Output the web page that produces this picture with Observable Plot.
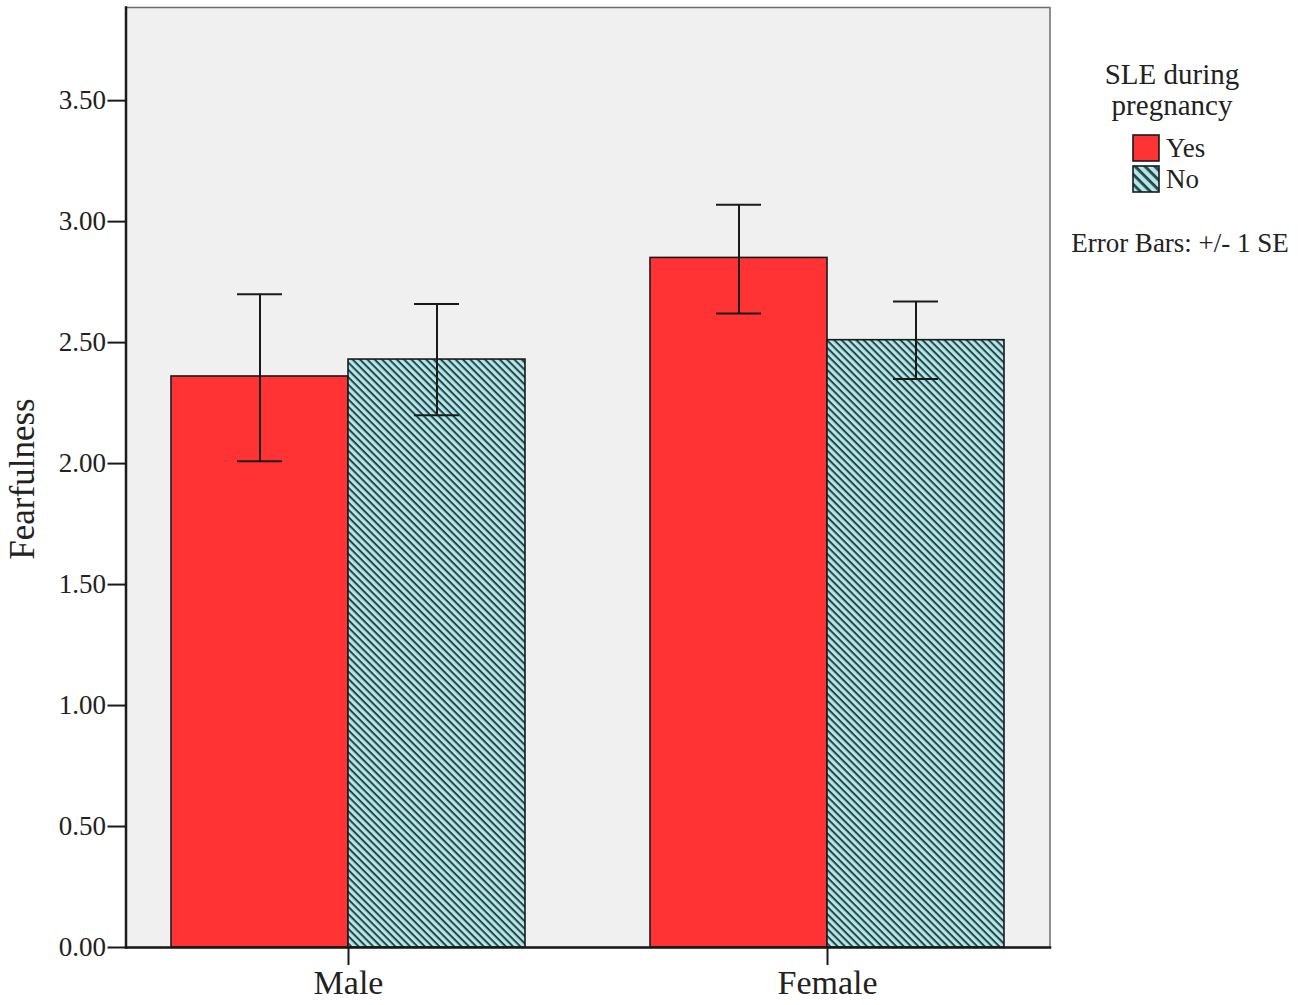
<!DOCTYPE html>
<html>
<head>
<meta charset="utf-8">
<script src="https://cdn.jsdelivr.net/npm/d3@7"></script>
<script src="https://cdn.jsdelivr.net/npm/@observablehq/plot@0.6"></script>
<style>
  html, body { margin: 0; padding: 0; background: #ffffff; }
  body { font-family: "Liberation Serif", "DejaVu Serif", serif; color: #222; }
  #wrap { position: relative; width: 1300px; height: 1005px; }
  #legend { position: absolute; left: 1040px; top: 0px; }
</style>
</head>
<body>
<svg width="0" height="0" style="position:absolute">
  <defs>
    <pattern id="hatch" patternUnits="userSpaceOnUse" width="5.2" height="5.2" patternTransform="rotate(45)">
      <rect width="5.2" height="5.2" fill="#b6e6e6"></rect>
      <rect width="5.2" height="2.0" fill="#24464c"></rect>
    </pattern>
    <pattern id="hatchBig" patternUnits="userSpaceOnUse" width="7" height="7" patternTransform="rotate(45)">
      <rect width="7" height="7" fill="#b6e6e6"></rect>
      <rect width="7" height="2.8" fill="#24464c"></rect>
    </pattern>
  </defs>
</svg>
<div id="wrap">
  <div id="chart"></div>
  <svg id="legend" width="260" height="300"></svg>
</div>
<script>
// ---- data ----
const sexes = ["Male", "Female"];
const groups = ["Yes", "No"];           // SLE during pregnancy
const meanYes  = [2.36, 2.85];
const meanNo   = [2.43, 2.51];
const lowerYes = [2.01, 2.62];
const upperYes = [2.70, 3.07];
const lowerNo  = [2.20, 2.35];
const upperNo  = [2.66, 2.67];
const yTicks = [0, 0.5, 1, 1.5, 2, 2.5, 3, 3.5];
const legendTitle = ["SLE during", "pregnancy"];
const errorNote = "Error Bars: +/- 1 SE";

const table = [];
sexes.forEach((s, i) => {
  table.push({sex: s, group: "Yes", mean: meanYes[i], lower: lowerYes[i], upper: upperYes[i]});
  table.push({sex: s, group: "No",  mean: meanNo[i],  lower: lowerNo[i],  upper: upperNo[i]});
});

const RED = "#ff3333";
const INK = "#1a1a1a";
const OUT = -45.5; // frame extends beyond the outer facet bands

const chart = Plot.plot({
  width: 1300,
  height: 1005,
  marginLeft: 125,
  marginRight: 249,
  marginTop: 7,
  marginBottom: 58,
  style: {fontFamily: '"Liberation Serif", serif', fontSize: "27px", color: "#222", background: "transparent", overflow: "visible"},
  fx: {domain: sexes, paddingInner: 0.26, paddingOuter: 0.0946, label: null},
  x: {domain: groups, padding: 0, axis: null},
  y: {domain: [0, 3.885]},
  marks: [
    Plot.frame({facet: "super", fill: "#f0f0f0", stroke: "#6e6e6e", strokeWidth: 1.5, insetLeft: OUT, insetRight: OUT}),
    Plot.barY(table, {filter: d => d.group === "Yes", fx: "sex", x: "group", y: "mean", fill: RED, stroke: INK, strokeWidth: 1.6}),
    Plot.barY(table, {filter: d => d.group === "No", fx: "sex", x: "group", y: "mean", fill: "url(#hatch)", stroke: INK, strokeWidth: 1.6}),
    Plot.ruleX(table, {fx: "sex", x: "group", y1: "lower", y2: "upper", stroke: INK, strokeWidth: 2}),
    Plot.tickY(table, {fx: "sex", x: "group", y: "lower", insetLeft: 66, insetRight: 66, stroke: INK, strokeWidth: 2}),
    Plot.tickY(table, {fx: "sex", x: "group", y: "upper", insetLeft: 66, insetRight: 66, stroke: INK, strokeWidth: 2}),
    Plot.axisY({ticks: yTicks, tickFormat: d3.format(".2f"), tickSize: 18, tickPadding: 2, strokeWidth: 2, stroke: INK, fontSize: 27,
      dx: OUT, label: null}),
    Plot.axisFx({anchor: "bottom", tickSize: 18, tickPadding: 4, strokeWidth: 2, stroke: INK, fontSize: 34, label: null}),
    Plot.frame({facet: "super", anchor: "left", stroke: INK, strokeWidth: 2.5, insetLeft: OUT, insetRight: OUT}),
    Plot.frame({facet: "super", anchor: "bottom", stroke: INK, strokeWidth: 2.5, insetLeft: OUT, insetRight: OUT})
  ]
});
document.getElementById("chart").appendChild(chart);

// y-axis title
const svg = d3.select(chart);
svg.append("text")
  .attr("transform", "translate(34, 479) rotate(-90)")
  .attr("text-anchor", "middle")
  .attr("font-family", '"Liberation Serif", serif')
  .attr("font-size", 35)
  .attr("fill", "#222")
  .text("Fearfulness");

// ---- legend ----
const lg = d3.select("#legend");
const cx = 132;
lg.selectAll("text.title").data(legendTitle).join("text")
  .attr("class", "title")
  .attr("x", cx).attr("y", (d, i) => 84 + i * 31)
  .attr("text-anchor", "middle")
  .attr("font-family", '"Liberation Serif", serif')
  .attr("font-size", 29)
  .attr("fill", "#222")
  .text(d => d);
const fills = {Yes: RED, No: "url(#hatchBig)"};
groups.forEach((g, i) => {
  const y0 = 135 + i * 31;
  lg.append("rect").attr("x", 93).attr("y", y0).attr("width", 26).attr("height", 26)
    .attr("fill", fills[g]).attr("stroke", INK).attr("stroke-width", 1.6);
  lg.append("text").attr("x", 126).attr("y", y0 + 22)
    .attr("font-family", '"Liberation Serif", serif').attr("font-size", 27).attr("fill", "#222")
    .text(g);
});
lg.append("text").attr("x", 140).attr("y", 252).attr("text-anchor", "middle")
  .attr("font-family", '"Liberation Serif", serif').attr("font-size", 27).attr("fill", "#222")
  .text(errorNote);
</script>
</body>
</html>
